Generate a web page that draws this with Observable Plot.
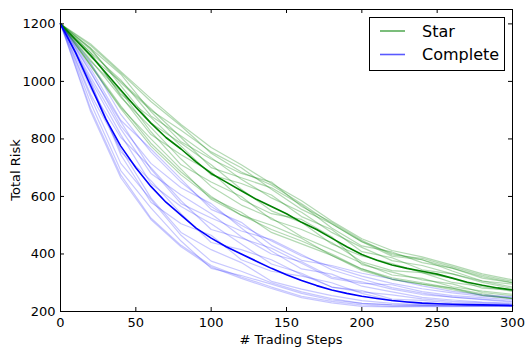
<!DOCTYPE html>
<html><head><meta charset="utf-8">
<script src="https://cdn.jsdelivr.net/npm/d3@7"></script>
<script src="https://cdn.jsdelivr.net/npm/@observablehq/plot@0.6"></script>
<style>body{margin:0;background:#fff} svg{display:block}</style>
</head><body><div id="chart"></div>
<script>
const steps = [0,10,20,30,40,50,60,70,80,90,100,110,120,130,140,150,160,170,180,190,200,210,220,230,240,250,260,270,280,290,300];
const starMean = [1200,1145,1090,1030,970,910,855,805,765,720,680,650,620,590,565,540,510,485,455,425,398,378,362,350,340,330,316,302,291,282,275];
const completeMean = [1200,1100,985,870,775,700,635,580,535,490,455,425,400,375,350,328,308,290,275,263,253,245,238,233,229,227,225,224,223,222,221];
const traceSteps = [0,20,40,60,80,100,120,140,160,180,200,220,240,260,280,300];
const starOffsets = [
  [0,35,60,75,80,70,65,75,65,50,45,40,40,35,30,25],
  [0,-30,-55,-70,-80,-80,-85,-80,-65,-55,-50,-45,-40,-35,-30,-30],
  [0,10,35,25,45,55,40,30,35,20,25,15,20,15,10,5],
  [0,-15,-25,-15,-35,-45,-50,-40,-50,-40,-30,-35,-25,-30,-20,-15],
  [0,40,65,85,85,90,90,80,75,60,55,50,50,45,40,35],
  [0,-35,-65,-80,-90,-85,-75,-90,-75,-60,-55,-50,-45,-40,-35,-30],
  [0,5,-15,20,10,-5,25,40,20,30,10,25,5,15,15,10],
  [0,20,25,45,65,75,80,60,45,50,45,30,40,25,15,20],
  [0,-20,-5,-30,-55,-30,-20,-45,-25,-15,-25,-20,-5,-15,-5,-5],
  [0,25,15,0,20,30,5,-15,0,-20,-5,5,-5,0,-10,0],
  [0,-5,30,50,40,20,45,65,60,35,30,45,30,35,25,25],
  [0,-35,-60,-55,-70,-90,-85,-65,-55,-60,-50,-50,-45,-35,-35,-30],
  [0,10,-20,-40,-20,5,-30,-25,10,5,-35,-25,-30,-20,-25,-20],
  [0,25,55,40,25,50,60,85,55,55,50,35,45,40,35,30]
];
const completeOffsets = [
  [0,80,110,120,115,110,100,95,85,80,70,60,50,40,30,28],
  [0,-80,-100,-110,-105,-95,-80,-65,-55,-40,-30,-20,-10,-6,-4,-2],
  [0,30,60,45,70,85,60,50,65,45,50,40,30,25,20,15],
  [0,-40,-60,-45,-70,-80,-60,-50,-40,-30,-25,-15,-8,-5,-3,-2],
  [0,60,90,130,125,100,110,80,70,85,80,75,60,45,35,30],
  [0,-90,-110,-115,-110,-100,-85,-70,-60,-45,-35,-22,-12,-8,-5,-3],
  [0,10,-20,20,5,-15,15,30,20,10,20,5,10,5,5,3],
  [0,50,70,80,95,120,90,60,40,55,35,30,20,15,10,8],
  [0,-30,-10,-40,-60,-40,-30,-45,-30,-20,-15,-10,-5,-3,-2,-1],
  [0,20,40,10,30,50,35,15,25,10,15,20,15,10,8,5],
  [0,-10,30,65,50,30,55,70,60,40,45,55,40,30,25,20],
  [0,-60,-85,-75,-90,-105,-75,-55,-45,-35,-25,-15,-8,-4,-3,-2],
  [0,15,-30,-55,-30,10,-20,-10,15,25,10,0,2,0,-2,0],
  [0,45,85,60,40,70,80,100,90,70,60,45,35,25,18,12]
];
const xTicks = [0,50,100,150,200,250,300];
const yTicks = [200,400,600,800,1000,1200];
const seriesNames = ["Star","Complete"];
const seriesColors = ["#008000","#0000ff"];

const means = [starMean, completeMean];
const offsets = [starOffsets, completeOffsets];
const meanRows = [], traceRows = [];
seriesNames.forEach((name, si) => {
  steps.forEach((s, i) => meanRows.push({step: s, risk: means[si][i], series: name}));
  offsets[si].forEach((off, k) => {
    traceSteps.forEach((s, j) => {
      const mi = steps.indexOf(s);
      traceRows.push({step: s, risk: means[si][mi] + off[j], series: name, run: name + k});
    });
  });
});

const font = "DejaVu Sans, Verdana, sans-serif";
const chart = Plot.plot({
  width: 526, height: 348,
  marginLeft: 60, marginRight: 14, marginTop: 9, marginBottom: 37,
  style: {fontFamily: font, fontSize: "13px", color: "#000", background: "#fff"},
  x: {domain: [0, 300]},
  y: {domain: [200, 1250]},
  color: {domain: seriesNames, range: seriesColors},
  marks: [
    Plot.line(traceRows.filter(d => d.series === "Star"), {x: "step", y: "risk", z: "run", stroke: "series", strokeOpacity: 0.3, strokeWidth: 1.2}),
    Plot.line(traceRows.filter(d => d.series === "Complete"), {x: "step", y: "risk", z: "run", stroke: "series", strokeOpacity: 0.22, strokeWidth: 1.2}),
    Plot.line(meanRows, {x: "step", y: "risk", z: "series", stroke: "series", strokeWidth: 1.6}),
    Plot.frame({stroke: "#000", strokeWidth: 1}),
    Plot.ruleX(xTicks, {x: d => d, y1: 200, y2: 200, insetTop: -4, stroke: "#000"}),
    Plot.ruleX(xTicks, {x: d => d, y1: 1250, y2: 1250, insetBottom: -4, stroke: "#000"}),
    Plot.ruleY(yTicks, {y: d => d, x1: 0, x2: 0, insetRight: -4, stroke: "#000"}),
    Plot.ruleY(yTicks, {y: d => d, x1: 300, x2: 300, insetLeft: -4, stroke: "#000"}),
    Plot.axisX({ticks: xTicks, tickSize: 0, tickPadding: 6, label: null, fontSize: 13, tickFormat: d3.format("d")}),
    Plot.axisY({ticks: yTicks, tickSize: 0, tickPadding: 5, label: null, fontSize: 13, tickFormat: d3.format("d")})
  ]
});
document.getElementById("chart").appendChild(chart);

const svg = d3.select(chart);
svg.append("text").attr("x", 291).attr("y", 344).attr("text-anchor", "middle")
  .attr("font-family", font).attr("font-size", 13).attr("fill", "#000").text("# Trading Steps");
svg.append("text").attr("transform", "translate(20,170) rotate(-90)").attr("text-anchor", "middle")
  .attr("font-family", font).attr("font-size", 13).attr("fill", "#000").text("Total Risk");

const lg = svg.append("g");
lg.append("rect").attr("x", 369.5).attr("y", 17.5).attr("width", 135).attr("height", 53)
  .attr("fill", "#fff").attr("stroke", "#000").attr("stroke-width", 1);
seriesNames.forEach((name, i) => {
  const y = 31 + i * 23.5;
  lg.append("line").attr("x1", 380).attr("x2", 405).attr("y1", y).attr("y2", y)
    .attr("stroke", seriesColors[i]).attr("stroke-opacity", 0.65).attr("stroke-width", 1.6);
  lg.append("text").attr("x", 422).attr("y", y).attr("dy", "0.36em").attr("text-anchor", "start")
    .attr("font-family", font).attr("font-size", 16).attr("fill", "#000").text(name);
});
</script></body></html>
